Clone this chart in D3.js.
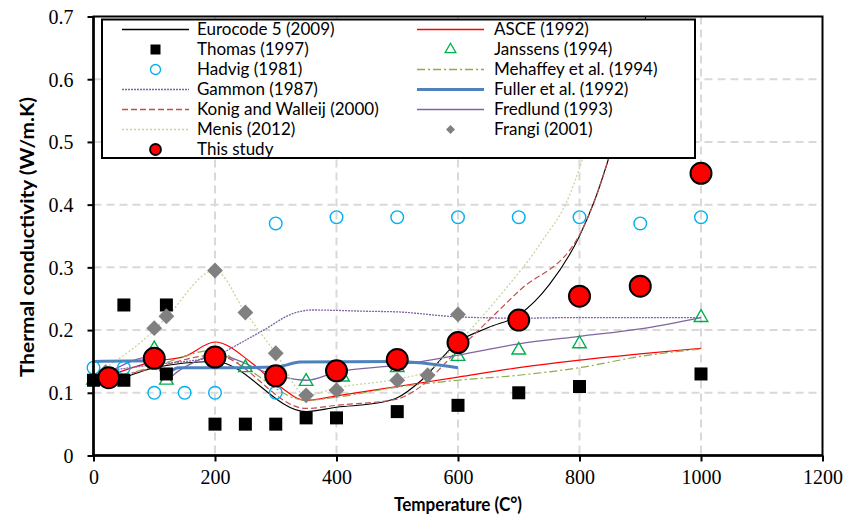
<!DOCTYPE html>
<html><head><meta charset="utf-8">
<script src="https://cdn.jsdelivr.net/npm/d3@7"></script>
<style>body{margin:0;background:#fff}svg{display:block}</style>
</head><body>
<svg id="c" width="865" height="519"></svg>
<script>
// ---------- data (Temperature °C, conductivity W/m.K) ----------
const xTicks = [0, 200, 400, 600, 800, 1000, 1200];
const yTicks = [0, 0.1, 0.2, 0.3, 0.4, 0.5, 0.6, 0.7];

const eurocode = [[20,0.12],[50,0.125],[100,0.14],[200,0.15],[350,0.07],[400,0.077],[470,0.084],[500,0.092],[540,0.12],[600,0.181],[650,0.204],[700,0.224],[750,0.272],[800,0.35],[825,0.407],[850,0.48],[900,0.66],[930,0.8]];
const asce = [[20,0.125],[100,0.15],[150,0.158],[200,0.181],[260,0.148],[300,0.115],[350,0.088],[400,0.095],[500,0.11],[600,0.125],[700,0.14],[800,0.152],[900,0.162],[1000,0.171]];
const mehaffey = [[20,0.12],[100,0.142],[200,0.168],[250,0.14],[350,0.088],[400,0.093],[500,0.109],[600,0.12],[700,0.128],[800,0.14],[900,0.158],[1000,0.17]];
const gammon = [[20,0.135],[100,0.145],[200,0.158],[230,0.173],[280,0.2],[330,0.227],[360,0.232],[450,0.23],[500,0.229],[600,0.221],[700,0.219],[800,0.22],[1000,0.22]];
const fuller = [[0,0.15],[100,0.151],[108,0.14],[118,0.127],[128,0.135],[140,0.14],[200,0.14],[300,0.141],[340,0.149],[500,0.15],[600,0.14]];
const konig = [[20,0.12],[100,0.14],[200,0.16],[350,0.075],[400,0.08],[500,0.09],[530,0.104],[600,0.168],[700,0.262],[800,0.352],[825,0.407],[850,0.48],[900,0.66]];
const fredlund = [[20,0.13],[100,0.158],[110,0.14],[122,0.123],[140,0.135],[160,0.146],[200,0.16],[300,0.128],[350,0.12],[400,0.133],[500,0.144],[600,0.16],[700,0.178],[800,0.19],[900,0.202],[1000,0.22]];
const menis = [[20,0.14],[100,0.2],[120,0.22],[200,0.295],[250,0.228],[300,0.163],[350,0.096],[400,0.108],[500,0.122],[550,0.135],[600,0.18],[670,0.256],[740,0.344],[780,0.407],[806,0.476],[840,0.6]];

const thomas = [[0,0.12],[50,0.24],[50,0.12],[120,0.24],[120,0.13],[200,0.05],[250,0.05],[300,0.05],[350,0.06],[400,0.06],[500,0.07],[600,0.08],[700,0.1],[800,0.11],[1000,0.13]];
const hadvig = [[0,0.14],[50,0.14],[100,0.1],[150,0.1],[200,0.1],[300,0.1],[300,0.37],[400,0.38],[500,0.38],[600,0.38],[700,0.38],[800,0.38],[900,0.37],[1000,0.38]];
const janssens = [[0,0.12],[100,0.17],[120,0.12],[200,0.15],[250,0.14],[350,0.118],[410,0.125],[500,0.14],[600,0.158],[700,0.168],[800,0.178],[1000,0.22]];
const frangi = [[20,0.133],[100,0.203],[120,0.222],[200,0.295],[250,0.228],[300,0.163],[350,0.096],[400,0.104],[500,0.12],[550,0.128],[600,0.225]];
const thisStudy = [[25,0.124],[100,0.155],[200,0.157],[300,0.127],[400,0.135],[500,0.153],[600,0.18],[700,0.216],[800,0.254],[900,0.27],[1000,0.45]];

// ---------- layout ----------
const svg = d3.select("#c");
const L = 93.5, R = 822.5, T = 16.5, B = 455.5;
const x = d3.scaleLinear().domain([0, 1200]).range([L, R]);
const y = d3.scaleLinear().domain([0, 0.7]).range([B, T]);

// grid
const grid = svg.append("g");
grid.selectAll("line.h").data(yTicks.filter(v => v > 0 && v < 0.7)).enter().append("line")
  .attr("x1", L).attr("x2", R).attr("y1", d => y(d)).attr("y2", d => y(d))
  .attr("stroke", "#d9d9d9").attr("stroke-width", 2).attr("stroke-dasharray", "8,5");
grid.selectAll("line.v").data(xTicks.filter(v => v > 0 && v < 1200)).enter().append("line")
  .attr("y1", T).attr("y2", B).attr("x1", d => x(d)).attr("x2", d => x(d))
  .attr("stroke", "#d9d9d9").attr("stroke-width", 2).attr("stroke-dasharray", "8,5");

// clip
svg.append("clipPath").attr("id", "pc").append("rect")
  .attr("x", L).attr("y", T).attr("width", R - L).attr("height", B - T);

const lineGen = d3.line().x(d => x(d[0])).y(d => y(d[1])).curve(d3.curveMonotoneX);
const lines = [
  {d: eurocode, c: "#000000", w: 1.1, dash: null},
  {d: asce, c: "#ff0000", w: 1.2, dash: null},
  {d: mehaffey, c: "#8faa4a", w: 1.2, dash: "8,3,2,3"},
  {d: gammon, c: "#7f64a2", w: 1.3, dash: "2,1"},
  {d: konig, c: "#c0504d", w: 1.2, dash: "6,3"},
  {d: fredlund, c: "#8064a2", w: 1.3, dash: null},
  {d: menis, c: "#c4d79b", w: 1.3, dash: "2,2"},
  {d: fuller, c: "#4f81bd", w: 3, dash: null}
];
const lg = svg.append("g").attr("clip-path", "url(#pc)");
lines.forEach(s => {
  lg.append("path").attr("d", lineGen(s.d)).attr("fill", "none")
    .attr("stroke", s.c).attr("stroke-width", s.w)
    .attr("stroke-dasharray", s.dash);
});

// markers
const mk = svg.append("g");
const sym = (type, size) => d3.symbol().type(type).size(size)();
mk.selectAll("path.had").data(hadvig).enter().append("circle")
  .attr("cx", d => x(d[0])).attr("cy", d => y(d[1])).attr("r", 6.3)
  .attr("fill", "none").attr("stroke", "#00b0f0").attr("stroke-width", 1.4);
mk.selectAll("path.jan").data(janssens).enter().append("path")
  .attr("transform", d => `translate(${x(d[0])},${y(d[1])})`)
  .attr("d", sym(d3.symbolTriangle, 80))
  .attr("fill", "none").attr("stroke", "#00b050").attr("stroke-width", 1.4);
mk.selectAll("rect.th").data(thomas).enter().append("rect")
  .attr("x", d => x(d[0]) - 6.5).attr("y", d => y(d[1]) - 6.5)
  .attr("width", 13).attr("height", 13).attr("fill", "#000");
mk.selectAll("path.fr").data(frangi).enter().append("path")
  .attr("transform", d => `translate(${x(d[0])},${y(d[1])}) rotate(45)`)
  .attr("d", sym(d3.symbolSquare, 125))
  .attr("fill", "#808080");
mk.selectAll("circle.ts").data(thisStudy).enter().append("circle")
  .attr("cx", d => x(d[0])).attr("cy", d => y(d[1])).attr("r", 10.5)
  .attr("fill", "#ff0000").attr("stroke", "#000").attr("stroke-width", 2);

// frame and axes
svg.append("rect").attr("x", L).attr("y", T).attr("width", R - L).attr("height", B - T)
  .attr("fill", "none").attr("stroke", "#000").attr("stroke-width", 2);
svg.append("line").attr("x1", L).attr("x2", L).attr("y1", T).attr("y2", B + 1)
  .attr("stroke", "#000").attr("stroke-width", 2.5);
svg.append("line").attr("x1", L - 1).attr("x2", R).attr("y1", B).attr("y2", B)
  .attr("stroke", "#000").attr("stroke-width", 2.5);

const xAxis = svg.append("g").attr("transform", `translate(0,${B})`)
  .call(d3.axisBottom(x).tickValues(xTicks).tickSize(6).tickSizeOuter(0).tickFormat(d3.format("d")));
const yAxis = svg.append("g").attr("transform", `translate(${L},0)`)
  .call(d3.axisLeft(y).tickValues(yTicks).tickSize(6).tickSizeOuter(0).tickFormat(d => d === 0 ? "0" : d3.format(".1f")(d)));
[xAxis, yAxis].forEach(a => {
  a.select(".domain").remove();
  a.selectAll(".tick line").attr("stroke", "#000").attr("stroke-width", 2);
  a.selectAll(".tick text").attr("fill", "#000")
    .style("font-family", "'Liberation Serif', serif").style("font-size", "20px");
});
xAxis.selectAll(".tick text").attr("y", 14).attr("dy", "0.71em");
yAxis.selectAll(".tick text").attr("x", -20).attr("dy", "0.34em");

// axis titles
svg.append("text").attr("x", 458).attr("y", 511).attr("text-anchor", "middle")
  .style("font-family", "Lato, sans-serif").style("font-weight", "bold").style("font-size", "19.5px")
  .attr("textLength", 128).attr("lengthAdjust", "spacingAndGlyphs")
  .text("Temperature (C°)");
svg.append("text").attr("transform", "translate(34,237) rotate(-90)").attr("text-anchor", "middle")
  .style("font-family", "Lato, sans-serif").style("font-weight", "bold").style("font-size", "18.5px")
  .attr("textLength", 280).attr("lengthAdjust", "spacingAndGlyphs")
  .text("Thermal conductivity (W/m.K)");

// legend
const leg = svg.append("g");
leg.append("rect").attr("x", 102).attr("y", 19.5).attr("width", 593).attr("height", 138.5)
  .attr("fill", "#fff").attr("stroke", "#000").attr("stroke-width", 2);
const legendItems = [
  {name: "Eurocode 5 (2009)", kind: "line", s: lines[0]},
  {name: "ASCE (1992)", kind: "line", s: lines[1]},
  {name: "Thomas (1997)", kind: "square"},
  {name: "Janssens (1994)", kind: "tri"},
  {name: "Hadvig (1981)", kind: "ocircle"},
  {name: "Mehaffey et al. (1994)", kind: "line", s: lines[2]},
  {name: "Gammon (1987)", kind: "line", s: lines[3]},
  {name: "Fuller et al. (1992)", kind: "line", s: lines[7]},
  {name: "Konig and Walleij (2000)", kind: "line", s: lines[4]},
  {name: "Fredlund (1993)", kind: "line", s: lines[5]},
  {name: "Menis (2012)", kind: "line", s: lines[6]},
  {name: "Frangi (2001)", kind: "diamond"},
  {name: "This study", kind: "rcircle"}
];
legendItems.forEach((it, i) => {
  const col = i % 2, row = Math.floor(i / 2);
  const x0 = col === 0 ? 122 : 417, x1 = x0 + 67, cx = (x0 + x1) / 2;
  const yy = 29.5 + row * 20;
  const g = leg.append("g");
  if (it.kind === "line") {
    g.append("line").attr("x1", x0).attr("x2", x1).attr("y1", yy).attr("y2", yy)
      .attr("stroke", it.s.c).attr("stroke-width", Math.max(it.s.w, 1.5)).attr("stroke-dasharray", it.s.dash);
  } else if (it.kind === "square") {
    g.append("rect").attr("x", cx - 5).attr("y", yy - 5).attr("width", 10).attr("height", 10).attr("fill", "#000");
  } else if (it.kind === "tri") {
    g.append("path").attr("transform", `translate(${cx},${yy})`).attr("d", sym(d3.symbolTriangle, 50))
      .attr("fill", "none").attr("stroke", "#00b050").attr("stroke-width", 1.3);
  } else if (it.kind === "ocircle") {
    g.append("circle").attr("cx", cx).attr("cy", yy).attr("r", 5).attr("fill", "none")
      .attr("stroke", "#00b0f0").attr("stroke-width", 1.3);
  } else if (it.kind === "diamond") {
    g.append("path").attr("transform", `translate(${cx},${yy}) rotate(45)`).attr("d", sym(d3.symbolSquare, 40))
      .attr("fill", "#808080");
  } else if (it.kind === "rcircle") {
    g.append("circle").attr("cx", cx).attr("cy", yy).attr("r", 5.5).attr("fill", "#ff0000")
      .attr("stroke", "#000").attr("stroke-width", 1.8);
  }
  g.append("text").attr("x", col === 0 ? 197 : 494).attr("y", yy).attr("dy", "0.35em")
    .style("font-family", "Lato, sans-serif").style("font-size", "17px").attr("fill", "#000")
    .text(it.name);
});
</script>
</body></html>
